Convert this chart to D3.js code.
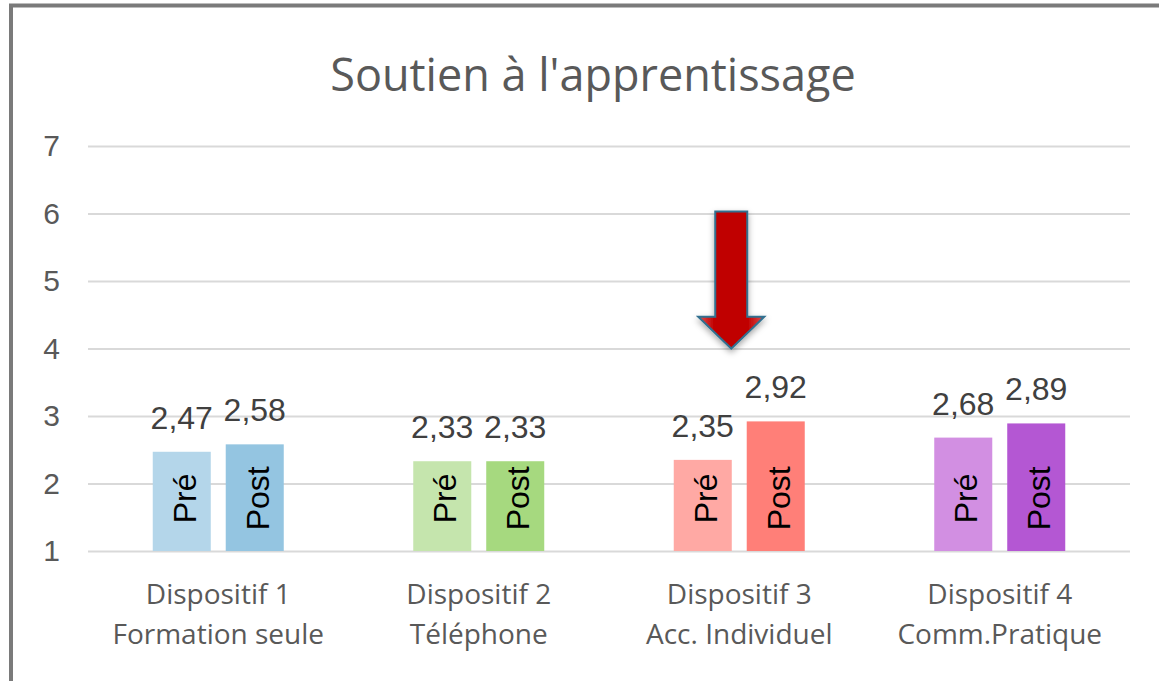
<!DOCTYPE html>
<html>
<head>
<meta charset="utf-8">
<script src="https://cdn.jsdelivr.net/npm/d3@7"></script>
<style>
  html, body { margin: 0; padding: 0; background: #fff; }
  svg { display: block; }
</style>
</head>
<body>
<div id="chart"></div>
<script>
/////////////////////////////////////////////////////////
// data
/////////////////////////////////////////////////////////
var categories = ["Dispositif 1", "Dispositif 2", "Dispositif 3", "Dispositif 4"];
var subtitles = ["Formation seule", "Téléphone", "Acc. Individuel", "Comm.Pratique"];
var phases = ["Pré", "Post"];
var preValues = [2.47, 2.33, 2.35, 2.68];
var postValues = [2.58, 2.33, 2.92, 2.89];
var yTicks = [1, 2, 3, 4, 5, 6, 7];
var preColors = ["#b4d6ea", "#c5e5ad", "#ffa9a4", "#d28fe2"];
var postColors = ["#94c5e1", "#a6d97f", "#ff7f78", "#b457d3"];

/////////////////////////////////////////////////////////
// layout
/////////////////////////////////////////////////////////
var W = 1159, H = 681;
var margin = {top: 146, right: 29, bottom: 130, left: 88};
var width = W - margin.left - margin.right,
    height = H - margin.top - margin.bottom;

var svg = d3.select("#chart").append("svg")
    .attr("width", W)
    .attr("height", H);

// frame (only top and left edges visible)
svg.append("path")
    .attr("d", "M11,683 L11,5.5 L1165,5.5")
    .attr("fill", "none")
    .attr("stroke", "#7a7a7a")
    .attr("stroke-width", 4);

// title
svg.append("text")
    .attr("x", 593)
    .attr("y", 91)
    .attr("text-anchor", "middle")
    .style("font-family", "'Open Sans', sans-serif")
    .style("font-size", "45px")
    .style("fill", "#595959")
    .text("Soutien à l'apprentissage");

var g = svg.append("g")
    .attr("transform", "translate(" + margin.left + "," + margin.top + ")");

// scales
var x0 = d3.scaleBand()
    .domain(categories)
    .range([0, width])
    .paddingInner(0)
    .paddingOuter(0);

var x1 = d3.scaleBand()
    .domain(phases)
    .range([(x0.bandwidth() - 131) / 2, (x0.bandwidth() + 131) / 2])
    .paddingInner(0.205);

var y = d3.scaleLinear()
    .domain([1, 7])
    .range([height, 0]);

// gridlines
g.append("g")
    .attr("class", "grid")
    .call(d3.axisLeft(y).tickValues(yTicks).tickSize(-width).tickFormat(""))
    .call(function(s) {
      s.select(".domain").remove();
      s.selectAll("line").attr("stroke", "#d9d9d9").attr("stroke-width", 2);
    });

// y axis labels
g.append("g")
    .call(d3.axisLeft(y).tickValues(yTicks).tickSize(0).tickPadding(28).tickFormat(d3.format("d")))
    .call(function(s) {
      s.select(".domain").remove();
      s.selectAll("text")
        .style("font-family", "'Liberation Sans', Arial, sans-serif")
        .style("font-size", "30px")
        .style("fill", "#595959");
    });

// bars
var rows = categories.map(function(c, i) {
  return [
    {cat: c, phase: "Pré", value: preValues[i], color: preColors[i]},
    {cat: c, phase: "Post", value: postValues[i], color: postColors[i]}
  ];
});

var groups = g.selectAll(".grp")
    .data(rows)
  .enter().append("g")
    .attr("class", "grp")
    .attr("transform", function(d) { return "translate(" + x0(d[0].cat) + ",0)"; });

var bars = groups.selectAll(".bar")
    .data(function(d) { return d; })
  .enter().append("g")
    .attr("class", "bar");

bars.append("rect")
    .attr("x", function(d) { return x1(d.phase); })
    .attr("width", x1.bandwidth())
    .attr("y", function(d) { return y(d.value); })
    .attr("height", function(d) { return height - y(d.value); })
    .attr("fill", function(d) { return d.color; });

// value labels
var fmt = function(v) { return d3.format(".2f")(v).replace(".", ","); };
bars.append("text")
    .attr("x", function(d) { return x1(d.phase) + x1.bandwidth() / 2; })
    .attr("y", function(d) { return y(d.value) - 23; })
    .attr("text-anchor", "middle")
    .style("font-family", "'Liberation Sans', Arial, sans-serif")
    .style("font-size", "32px")
    .style("fill", "#404040")
    .text(function(d) { return fmt(d.value); });

// rotated phase labels inside bars
bars.append("text")
    .attr("transform", function(d) {
      return "translate(" + (x1(d.phase) + x1.bandwidth() / 2 + 14) + "," + y(1.78) + ") rotate(-90)";
    })
    .attr("text-anchor", "middle")
    .style("font-family", "'Liberation Sans', Arial, sans-serif")
    .style("font-size", "32px")
    .style("fill", "#000")
    .text(function(d) { return d.phase; });

// category labels
var cat = g.selectAll(".cat")
    .data(categories)
  .enter().append("text")
    .attr("class", "cat")
    .attr("x", function(d) { return x0(d) + x0.bandwidth() / 2; })
    .attr("y", height + 53)
    .attr("text-anchor", "middle")
    .style("font-family", "'Open Sans', sans-serif")
    .style("font-size", "28px")
    .style("fill", "#595959");

cat.append("tspan")
    .attr("x", function(d) { return x0(d) + x0.bandwidth() / 2; })
    .text(function(d) { return d; });
cat.append("tspan")
    .attr("x", function(d) { return x0(d) + x0.bandwidth() / 2; })
    .attr("dy", 40)
    .text(function(d, i) { return subtitles[i]; });

/////////////////////////////////////////////////////////
// arrow annotation above Dispositif 3
/////////////////////////////////////////////////////////
var defs = svg.append("defs");
var grad = defs.append("linearGradient")
    .attr("id", "arrowFill")
    .attr("x1", "0").attr("x2", "1").attr("y1", "0").attr("y2", "0");
grad.append("stop").attr("offset", "0%").attr("stop-color", "#e05050");
grad.append("stop").attr("offset", "25%").attr("stop-color", "#c00000");
grad.append("stop").attr("offset", "75%").attr("stop-color", "#c00000");
grad.append("stop").attr("offset", "100%").attr("stop-color", "#e05050");

var shadow = defs.append("filter").attr("id", "shadow")
    .attr("x", "-50%").attr("y", "-50%").attr("width", "200%").attr("height", "200%");
shadow.append("feDropShadow")
    .attr("dx", 0).attr("dy", 3).attr("stdDeviation", 3)
    .attr("flood-color", "#000").attr("flood-opacity", 0.35);

var ax = x0(categories[2]) + x0.bandwidth() / 2 - 8;
var shaftW = 16, headW = 33;
var yTop = y(6.03), yHead = y(4.47), yTip = y(4.0);
var arrowPath = d3.path();
arrowPath.moveTo(ax - shaftW, yTop);
arrowPath.lineTo(ax + shaftW, yTop);
arrowPath.lineTo(ax + shaftW, yHead);
arrowPath.lineTo(ax + headW, yHead);
arrowPath.lineTo(ax, yTip);
arrowPath.lineTo(ax - headW, yHead);
arrowPath.lineTo(ax - shaftW, yHead);
arrowPath.closePath();

g.append("path")
    .attr("d", arrowPath.toString())
    .attr("fill", "url(#arrowFill)")
    .attr("stroke", "#31708f")
    .attr("stroke-width", 2)
    .attr("stroke-linejoin", "miter")
    .attr("filter", "url(#shadow)");
</script>
</body>
</html>
